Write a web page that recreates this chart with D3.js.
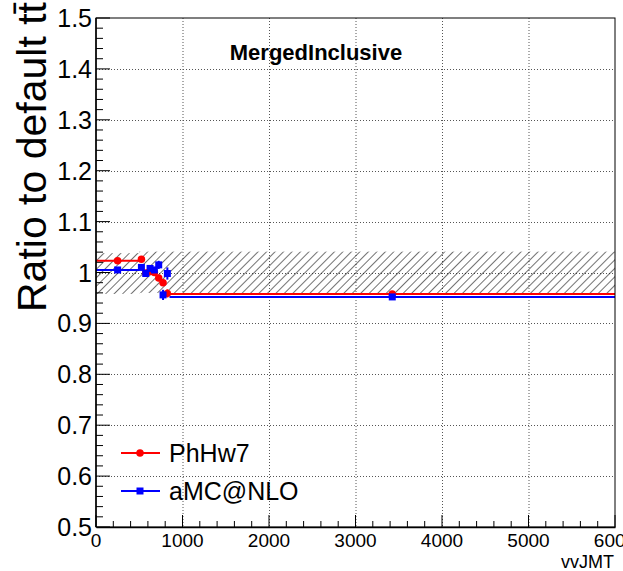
<!DOCTYPE html>
<html>
<head>
<meta charset="utf-8">
<script src="https://cdn.jsdelivr.net/npm/d3@7"></script>
<style>
  body { margin: 0; background: #fff; }
  svg { display: block; font-family: "Liberation Sans", Arial, sans-serif; }
</style>
</head>
<body>
<script>
// bin edges in vvJMT and ratios
const binEdges  = [0, 500, 550, 600, 650, 700, 750, 800, 850, 6000];
const phhw7     = [1.023, 1.026, 0.999, 1.002, 1.000, 0.989, 0.980, 0.959, 0.958];
const phhw7Err  = [0.002, 0.004, 0.006, 0.006, 0.006, 0.006, 0.006, 0.008, 0.002];
const amcnlo    = [1.005, 1.010, 0.998, 1.008, 1.005, 1.015, 0.956, 0.998, 0.952];
const amcnloErr = [0.002, 0.004, 0.006, 0.006, 0.006, 0.008, 0.010, 0.012, 0.002];
const bandLow   = [0.958, 0.960, 0.960, 0.960, 0.960, 0.960, 0.960, 0.960, 0.959];
const bandHigh  = [1.038, 1.041, 1.041, 1.041, 1.041, 1.041, 1.041, 1.041, 1.041];
const xTicks    = [0, 1000, 2000, 3000, 4000, 5000, 6000];
const yTicks    = [0.5, 0.6, 0.7, 0.8, 0.9, 1.0, 1.1, 1.2, 1.3, 1.4, 1.5];
const yTickText = ['0.5', '0.6', '0.7', '0.8', '0.9', '1', '1.1', '1.2', '1.3', '1.4', '1.5'];
const seriesNames = ['PhHw7', 'aMC@NLO'];

const width  = 623;
const height = 571;
const padL = 96, padR = 615, padT = 18, padB = 527;

const x = d3.scaleLinear().domain([0, 6000]).range([padL, padR]);
const y = d3.scaleLinear().domain([0.5, 1.5]).range([padB, padT]);

const svg = d3.select('body').append('svg')
    .attr('width', width)
    .attr('height', height);

// hatch pattern for the systematic band
svg.append('defs').append('pattern')
    .attr('id', 'hatch')
    .attr('patternUnits', 'userSpaceOnUse')
    .attr('width', 6)
    .attr('height', 6)
    .attr('patternTransform', 'rotate(45)')
  .append('line')
    .attr('x1', 0).attr('y1', 0)
    .attr('x2', 0).attr('y2', 6)
    .attr('stroke', '#111')
    .attr('stroke-width', 1.2);

// grid
const grid = svg.append('g').attr('stroke', '#555').attr('stroke-width', 1)
    .attr('stroke-dasharray', '1,2');
grid.selectAll('.gx').data(xTicks.slice(1, -1)).enter().append('line')
    .attr('x1', d => x(d) + 0.5).attr('x2', d => x(d) + 0.5)
    .attr('y1', padT).attr('y2', padB);
grid.selectAll('.gy').data(yTicks.slice(1, -1)).enter().append('line')
    .attr('y1', d => Math.round(y(d)) + 0.5).attr('y2', d => Math.round(y(d)) + 0.5)
    .attr('x1', padL).attr('x2', padR);

// band
const bins = d3.range(binEdges.length - 1);
svg.append('g').selectAll('rect').data(bins).enter().append('rect')
    .attr('x', i => x(binEdges[i]))
    .attr('width', i => x(binEdges[i + 1]) - x(binEdges[i]))
    .attr('y', i => y(bandHigh[i]))
    .attr('height', i => y(bandLow[i]) - y(bandHigh[i]))
    .attr('fill', 'url(#hatch)');

// series
const drawSeries = function(vals, errs, color, shape) {
  const g = svg.append('g').attr('stroke', color).attr('fill', color);
  g.selectAll('.h').data(bins).enter().append('line')
      .attr('x1', i => x(binEdges[i])).attr('x2', i => x(binEdges[i + 1]))
      .attr('y1', i => y(vals[i])).attr('y2', i => y(vals[i]))
      .attr('stroke-width', 2);
  g.selectAll('.v').data(bins).enter().append('line')
      .attr('x1', i => x((binEdges[i] + binEdges[i + 1]) / 2))
      .attr('x2', i => x((binEdges[i] + binEdges[i + 1]) / 2))
      .attr('y1', i => y(vals[i] - errs[i])).attr('y2', i => y(vals[i] + errs[i]))
      .attr('stroke-width', 2);
  g.selectAll('.m').data(bins).enter().append('path')
      .attr('transform', i => 'translate(' + x((binEdges[i] + binEdges[i + 1]) / 2) + ',' + y(vals[i]) + ')')
      .attr('d', d3.symbol().type(shape).size(shape === d3.symbolSquare ? 49 : 44))
      .attr('stroke', 'none');
};
drawSeries(phhw7, phhw7Err, '#ff0000', d3.symbolCircle);
drawSeries(amcnlo, amcnloErr, '#0000ff', d3.symbolSquare);

// frame
svg.append('rect')
    .attr('x', padL).attr('y', padT)
    .attr('width', padR - padL).attr('height', padB - padT)
    .attr('fill', 'none').attr('stroke', '#000').attr('stroke-width', 1);

// x axis
const xAxis = d3.axisBottom(x).tickValues(d3.range(0, 6001, 200)).tickSize(0).tickFormat('');
svg.append('g').attr('transform', 'translate(0,' + padB + ')').call(xAxis)
    .call(g => g.select('.domain').attr('stroke-width', 1.5));
svg.append('g').selectAll('line').data(d3.range(0, 6001, 200)).enter().append('line')
    .attr('x1', d => x(d)).attr('x2', d => x(d))
    .attr('y1', padB).attr('y2', d => padB - (d % 1000 === 0 ? 12 : 6))
    .attr('stroke', '#000');
svg.append('g').selectAll('text').data(xTicks).enter().append('text')
    .attr('x', d => x(d)).attr('y', 547)
    .attr('text-anchor', 'middle')
    .style('font-size', '19px')
    .text(d => d);

// y axis
svg.append('line').attr('x1', padL).attr('x2', padL).attr('y1', padT).attr('y2', padB)
    .attr('stroke', '#000').attr('stroke-width', 1.5);
svg.append('g').selectAll('line').data(d3.range(0, 51)).enter().append('line')
    .attr('y1', d => y(0.5 + d * 0.02)).attr('y2', d => y(0.5 + d * 0.02))
    .attr('x1', padL).attr('x2', d => padL + (d % 5 === 0 ? 14 : 7))
    .attr('stroke', '#000');
svg.append('g').selectAll('text').data(yTicks).enter().append('text')
    .attr('x', 92).attr('y', d => y(d) + 9)
    .attr('text-anchor', 'end')
    .style('font-size', '25px')
    .text((d, i) => yTickText[i]);

// titles
svg.append('text')
    .attr('x', 614).attr('y', 568)
    .attr('text-anchor', 'end')
    .style('font-size', '18px')
    .text('vvJMT');

svg.append('text')
    .attr('transform', 'translate(46,312) rotate(-90)')
    .style('font-size', '41px')
    .text('Ratio to default t\u0074\u0304');

svg.append('text')
    .attr('x', 316).attr('y', 60)
    .attr('text-anchor', 'middle')
    .style('font-size', '22px')
    .style('font-weight', 'bold')
    .text('MergedInclusive');

// legend
const legendY = [453, 491];
const legendColor = ['#ff0000', '#0000ff'];
const legendShape = [d3.symbolCircle, d3.symbolSquare];
const lg = svg.append('g');
seriesNames.forEach((name, i) => {
  lg.append('line')
      .attr('x1', 121).attr('x2', 160)
      .attr('y1', legendY[i]).attr('y2', legendY[i])
      .attr('stroke', legendColor[i]).attr('stroke-width', 2);
  lg.append('path')
      .attr('transform', 'translate(140,' + legendY[i] + ')')
      .attr('d', d3.symbol().type(legendShape[i]).size(i === 1 ? 49 : 44))
      .attr('fill', legendColor[i]);
  lg.append('text')
      .attr('x', 169).attr('y', legendY[i] + 9)
      .style('font-size', '25px')
      .text(name);
});
</script>
</body>
</html>
